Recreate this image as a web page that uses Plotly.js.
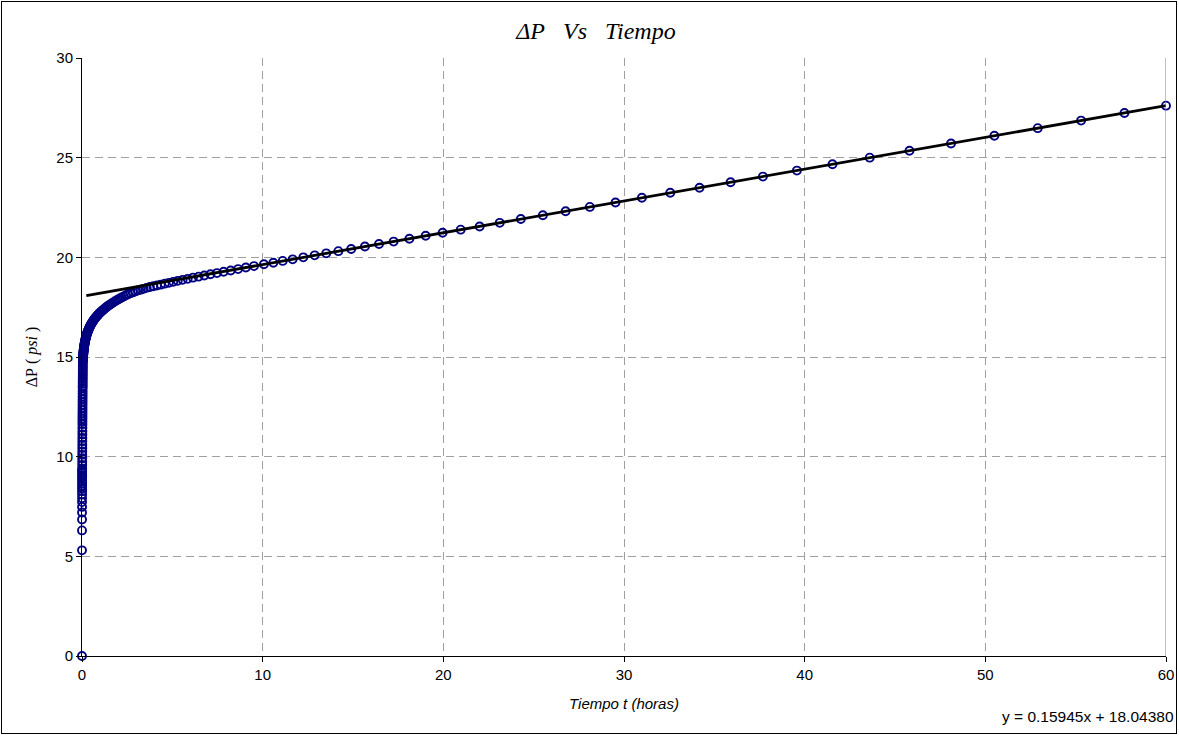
<!DOCTYPE html>
<html>
<head>
<meta charset="utf-8">
<script src="https://cdn.plot.ly/plotly-3.0.1.min.js"></script>
<style>
  html, body { margin: 0; padding: 0; background: #ffffff; }
  #wrap { position: relative; width: 1179px; height: 736px; }
  #chart { width: 1179px; height: 736px; }
  #frame { position: absolute; left: 1px; top: 1px; width: 1174px; height: 731px; border: 1.5px solid #000; pointer-events: none; }
</style>
</head>
<body>
<div id="wrap"><div id="chart"></div><div id="frame"></div></div>
<script>
// Tiempo t (horas)
const tiempoInicial = [0, 0.0005, 0.001, 0.0015, 0.002, 0.0025, 0.003, 0.0035, 0.004, 0.0045, 0.005,
  0.0055, 0.006, 0.0065, 0.007, 0.0075, 0.008, 0.0085, 0.009, 0.0095, 0.010,
  0.011, 0.012, 0.013, 0.014, 0.015, 0.016, 0.017, 0.018, 0.019, 0.020, 0.021, 0.022, 0.023,
  0.024, 0.025, 0.026, 0.027, 0.028, 0.029, 0.030, 0.031, 0.032, 0.033, 0.034, 0.035, 0.036,
  0.037, 0.038, 0.039, 0.040, 0.041, 0.042, 0.043, 0.044, 0.045, 0.046, 0.047, 0.048, 0.049];
const deltaPInicial = [0, 5.30, 6.30, 6.85, 7.20, 7.48, 7.72, 7.92, 8.10, 8.26, 8.40,
  8.53, 8.65, 8.76, 8.87, 8.97, 9.07, 9.16, 9.25, 9.33, 9.41,
  9.58, 9.75, 9.92, 10.09, 10.26, 10.43, 10.60, 10.77, 10.94, 11.11, 11.28, 11.45, 11.62,
  11.76, 11.90, 12.04, 12.18, 12.32, 12.46, 12.60, 12.74, 12.88, 13.02, 13.16, 13.30, 13.44,
  13.55, 13.66, 13.77, 13.88, 13.99, 14.10, 14.21, 14.32, 14.43, 14.54, 14.65, 14.76, 14.82];

const tiempoTransicion = [0.050, 0.053, 0.056, 0.059, 0.062, 0.065, 0.068, 0.071, 0.075, 0.079,
  0.083, 0.087, 0.091, 0.096, 0.101, 0.106, 0.111, 0.117, 0.123, 0.129, 0.136, 0.142, 0.150,
  0.157, 0.165, 0.17, 0.18, 0.19, 0.20, 0.21, 0.22, 0.23, 0.24, 0.26, 0.27, 0.28, 0.30, 0.31,
  0.33, 0.34, 0.36, 0.38, 0.40, 0.42, 0.44, 0.46, 0.48, 0.51, 0.53, 0.56, 0.59, 0.62, 0.65,
  0.68, 0.72, 0.75, 0.79, 0.83, 0.87, 0.91, 0.96, 1.01, 1.06, 1.11, 1.17, 1.23, 1.29, 1.35,
  1.42, 1.49, 1.56, 1.64, 1.72, 1.81, 1.90, 2.00, 2.10, 2.20, 2.31, 2.43, 2.55, 2.68, 2.81,
  2.95, 3.10, 3.25, 3.41, 3.58, 3.76, 3.95, 4.15, 4.36, 4.58, 4.81, 5.05, 5.30, 5.57, 5.85,
  6.14, 6.45, 6.77, 7.11, 7.47, 7.84, 8.23, 8.64, 9.07];
const deltaPTransicion = [14.88, 14.93, 14.97, 15.01, 15.04, 15.08, 15.11, 15.14, 15.18, 15.22,
  15.26, 15.29, 15.33, 15.37, 15.41, 15.44, 15.48, 15.52, 15.55, 15.59, 15.63, 15.66, 15.70,
  15.74, 15.77, 15.80, 15.84, 15.88, 15.92, 15.96, 15.99, 16.03, 16.06, 16.12, 16.15, 16.18, 16.23, 16.26,
  16.31, 16.33, 16.37, 16.42, 16.46, 16.50, 16.53, 16.57, 16.60, 16.65, 16.68, 16.73, 16.77, 16.81, 16.85,
  16.89, 16.94, 16.97, 17.02, 17.06, 17.10, 17.14, 17.19, 17.23, 17.27, 17.32, 17.36, 17.41, 17.46, 17.50,
  17.55, 17.59, 17.64, 17.69, 17.73, 17.79, 17.84, 17.89, 17.94, 17.99, 18.04, 18.10, 18.15, 18.20, 18.24,
  18.29, 18.34, 18.38, 18.42, 18.47, 18.51, 18.55, 18.59, 18.63, 18.68, 18.72, 18.77, 18.82, 18.87, 18.92,
  18.98, 19.03, 19.09, 19.15, 19.21, 19.28, 19.34, 19.41, 19.49];

const tiempoTardio = [9.52, 10.07, 10.59, 11.11, 11.66, 12.25, 12.88, 13.52, 14.19, 14.90, 15.66,
  16.44, 17.25, 18.12, 19.02, 19.96, 20.96, 22.01, 23.12, 24.29, 25.51, 26.77, 28.11, 29.53,
  30.99, 32.56, 34.18, 35.90, 37.69, 39.57, 41.54, 43.60, 45.80, 48.10, 50.50, 52.90, 55.30, 57.70, 60.00];
const deltaPTardio = [19.56, 19.65, 19.73, 19.82, 19.90, 20.00, 20.10, 20.20, 20.31, 20.42, 20.54,
  20.67, 20.79, 20.93, 21.08, 21.23, 21.39, 21.55, 21.73, 21.92, 22.11, 22.31, 22.53, 22.75,
  22.99, 23.24, 23.49, 23.77, 24.05, 24.35, 24.67, 25.00, 25.35, 25.71, 26.10, 26.48, 26.86, 27.24, 27.61];

// Linear trendline
const pendiente = 0.15945;
const intercepto = 18.04380;
const tendenciaX = [0.24, 60];

const xTicks = [0, 10, 20, 30, 40, 50, 60];
const yTicks = [0, 5, 10, 15, 20, 25, 30];

const tiempo = tiempoInicial.concat(tiempoTransicion, tiempoTardio);
const deltaP = deltaPInicial.concat(deltaPTransicion, deltaPTardio);
const tendenciaY = tendenciaX.map(x => pendiente * x + intercepto);

const sans = 'Liberation Sans, Arial, sans-serif';
const serif = 'Liberation Serif, Times New Roman, serif';

const traces = [
  {
    x: tiempo, y: deltaP, type: 'scatter', mode: 'markers', cliponaxis: false,
    marker: { symbol: 'circle-open', size: 8, color: '#000080', line: { width: 1.9, color: '#000080' } },
    hoverinfo: 'x+y', showlegend: false
  },
  {
    x: tendenciaX, y: tendenciaY, type: 'scatter', mode: 'lines', cliponaxis: false,
    line: { color: '#000000', width: 2.8 }, showlegend: false
  }
];

const layout = {
  width: 1179, height: 736,
  margin: { l: 82, r: 13, t: 58, b: 80 },
  paper_bgcolor: '#ffffff', plot_bgcolor: '#ffffff',
  font: { family: sans, size: 15, color: '#000' },
  title: {
    text: '<i>ΔP\u00a0\u00a0 Vs\u00a0\u00a0 Tiempo</i>',
    font: { family: serif, size: 24, color: '#000' },
    x: 596 / 1179, xref: 'container', xanchor: 'center',
    y: 1 - 31 / 736, yref: 'container', yanchor: 'middle'
  },
  xaxis: {
    range: [0, 60], tickvals: xTicks, ticktext: xTicks.map(String),
    showgrid: true, gridcolor: '#a0a0a0', gridwidth: 1, griddash: '8px,5px',
    zeroline: false, showline: true, linecolor: '#000', linewidth: 1,
    ticks: 'outside', ticklen: 5, tickcolor: '#000', tickwidth: 1,
    tickfont: { family: sans, size: 15, color: '#000' },
    title: { text: '<i>Tiempo t (horas)</i>', standoff: 16,
      font: { family: sans, size: 15, color: '#000' } }
  },
  yaxis: {
    range: [0, 30], tickvals: yTicks, ticktext: yTicks.map(String),
    showgrid: true, gridcolor: '#a0a0a0', gridwidth: 1, griddash: '8px,5px',
    zeroline: false, showline: true, linecolor: '#000', linewidth: 1,
    ticks: 'outside', ticklen: 5, tickcolor: '#000', tickwidth: 1,
    tickfont: { family: sans, size: 15, color: '#000' },
    title: { text: 'ΔP\u00a0(\u00a0<i>psi</i>\u00a0)', standoff: 14,
      font: { family: serif, size: 16, color: '#000' } }
  },
  shapes: [
    { type: 'line', xref: 'x', yref: 'paper', x0: 60, x1: 60, y0: 0, y1: 1,
      line: { color: '#808080', width: 1 } }
  ],
  annotations: [
    { text: 'y = 0.15945x + 18.04380', xref: 'paper', yref: 'paper',
      x: 1.0092, y: -0.102, xanchor: 'right', yanchor: 'middle', showarrow: false,
      font: { family: sans, size: 15.5, color: '#000' } }
  ]
};

Plotly.newPlot('chart', traces, layout, { displayModeBar: false, staticPlot: true });
</script>
</body>
</html>
